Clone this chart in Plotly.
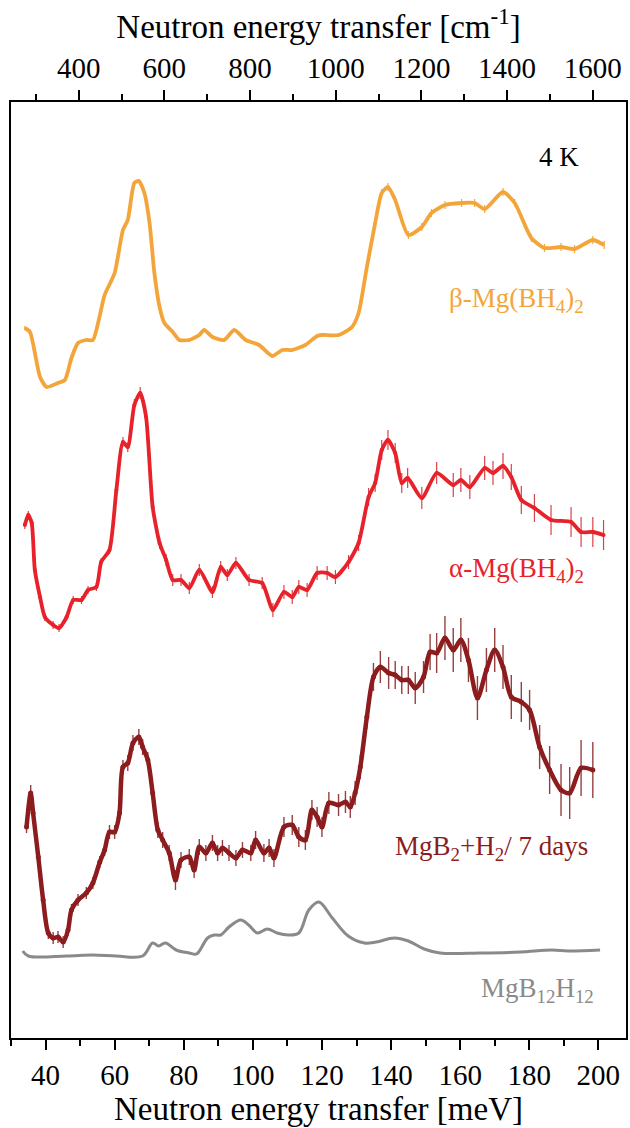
import plotly.graph_objects as go

MEV_TO_CM = 8.0655

# ---------------- data (energy in meV, intensity in arbitrary units) ----------------
beta_e = [34.0, 35.5, 38.4, 40.3, 43.6, 45.6, 47.5, 49.4, 51.8, 53.7,
          55.6, 57.1, 60.0, 62.4, 63.8, 65.7, 67.0, 68.6, 70.1, 71.5,
          73.0, 74.4, 76.8, 78.7, 81.6, 84.5, 85.9, 88.3, 91.7, 94.6,
          97.9, 101.8, 105.6, 108.5, 111.4, 115.2, 118.6, 120.0, 124.8, 128.7,
          130.6, 133.0, 135.4, 137.3, 139.1, 141.2, 145.0, 148.9, 151.7, 155.6,
          160.4, 164.2, 167.1, 172.4, 175.8, 180.6, 184.4, 189.2, 193.1, 198.4,
          201.7]
beta_i = [72, 68, 23, 13, 17, 20, 42, 57, 60, 60,
          83, 105, 127, 170, 180, 217, 219, 207, 177, 127,
          93, 77, 68, 60, 60, 65, 70, 63, 60, 70,
          60, 55, 44, 50, 50, 55, 64, 65, 65, 73,
          87, 133, 177, 207, 213, 200, 165, 173, 187, 195,
          197, 197, 191, 208, 197, 162, 152, 153, 151, 160,
          155]
beta_err = [2] * 40 + [4] * 21

alpha_e = [34.0, 35.0, 36.0, 36.9, 38.4, 39.8, 42.2, 43.9, 46.1, 48.0,
           50.4, 52.3, 54.7, 56.1, 58.5, 60.5, 62.4, 63.8, 65.7, 67.4,
           69.1, 71.0, 73.0, 74.9, 76.8, 79.2, 81.6, 84.5, 88.3, 90.7,
           92.6, 95.1, 98.9, 102.7, 105.8, 109.0, 111.4, 113.3, 115.7, 118.6,
           121.5, 123.9, 127.7, 130.6, 133.5, 135.4, 137.3, 139.1, 141.2, 143.1,
           144.8, 148.9, 153.2, 158.0, 160.2, 162.8, 167.1, 169.5, 172.4, 174.8,
           177.7, 181.5, 186.3, 192.1, 195.0, 198.4, 201.5]
alpha_i = [115, 125, 117, 70, 43, 23, 15, 12, 23, 40,
           40, 50, 53, 78, 90, 150, 198, 193, 235, 247,
           223, 133, 97, 80, 60, 60, 52, 70, 48, 73,
           65, 77, 60, 57, 30, 48, 43, 53, 50, 67,
           67, 63, 78, 97, 143, 157, 190, 200, 187, 157,
           162, 142, 167, 155, 160, 153, 172, 167, 174, 163,
           140, 132, 120, 118, 108, 108, 105]
alpha_err = [4, 4, 4, 4, 4, 4, 4, 4, 4, 4,
             4, 4, 4, 4, 4, 5, 5, 5, 6, 6,
             6, 6, 6, 6, 6, 6, 6, 6, 6, 6,
             6, 6, 6, 6, 7, 7, 7, 7, 7, 7,
             7, 7, 7, 8, 9, 9, 10, 10, 10, 10,
             10, 11, 11, 12, 12, 12, 12, 12, 13, 13,
             14, 14, 15, 15, 15, 15, 15]

mgb2_e = [34.5, 35.7, 36.4, 37.9, 39.3, 40.8, 42.2, 43.6, 45.1, 46.5,
          47.5, 49.4, 51.8, 53.7, 55.7, 57.1, 58.5, 60.0, 61.4, 62.4,
          63.8, 65.3, 67.0, 68.1, 69.6, 71.0, 72.5, 73.9, 75.8, 77.6,
          79.2, 81.6, 83.0, 84.5, 86.4, 88.3, 89.8, 91.2, 93.1, 95.1,
          97.0, 99.4, 100.8, 103.2, 104.7, 106.1, 109.0, 111.4, 113.3, 115.2,
          117.1, 118.6, 120.0, 122.0, 124.8, 126.8, 128.2, 129.6, 131.1, 133.0,
          134.9, 136.9, 139.3, 141.2, 143.1, 145.0, 147.0, 149.4, 151.3, 153.2,
          155.6, 158.0, 160.2, 162.4, 165.0, 167.6, 170.0, 172.4, 174.8, 177.7,
          180.1, 183.0, 185.9, 189.2, 191.7, 195.0, 198.4]
mgb2_i = [123, 157, 137, 93, 50, 17, 12, 13, 8, 20,
          40, 50, 57, 67, 88, 100, 118, 118, 137, 183,
          187, 207, 213, 203, 190, 157, 120, 110, 97, 70,
          90, 93, 80, 103, 97, 107, 97, 102, 97, 92,
          100, 97, 110, 97, 102, 92, 123, 125, 113, 110,
          140, 133, 123, 147, 145, 148, 143, 157, 183, 233,
          273, 283, 277, 275, 270, 270, 262, 273, 298, 297,
          312, 300, 310, 290, 252, 280, 300, 283, 253, 248,
          240, 203, 180, 160, 157, 182, 180]
mgb2_err = [6, 8, 6, 6, 6, 6, 6, 6, 6, 6,
            6, 6, 6, 6, 6, 6, 7, 7, 7, 7,
            8, 8, 8, 8, 8, 8, 8, 8, 8, 10,
            8, 8, 8, 8, 8, 8, 8, 8, 8, 8,
            8, 8, 9, 9, 9, 9, 10, 10, 10, 10,
            10, 10, 10, 11, 11, 11, 11, 12, 12, 12,
            14, 16, 16, 14, 14, 14, 16, 16, 18, 20,
            22, 22, 22, 22, 22, 22, 22, 22, 22, 20,
            20, 22, 24, 26, 26, 28, 28]

b12_e = [33.4, 35.0, 46.1, 53.7, 60.5, 68.1, 71.0, 72.7, 74.7, 77.8,
         81.6, 83.7, 86.9, 88.8, 90.7, 93.1, 96.5, 98.8, 101.3, 104.2,
         107.0, 110.4, 113.3, 116.2, 119.1, 123.0, 127.6, 132.3, 135.7, 140.9,
         145.0, 149.6, 154.2, 165.8, 177.4, 186.6, 191.3, 200.5]
b12_i = [9, 4, 4, 5, 4, 4, 17, 14, 17, 10,
         7, 6, 22, 25, 25, 33, 40, 35, 27, 31,
         27, 25, 27, 50, 58, 42, 24, 17, 18, 22,
         19, 11, 7, 7, 8, 10, 9, 10]

# vertical offsets of the stacked spectra (arbitrary units)
offsets = {"beta": 638, "alpha": 398, "mgb2": 88, "b12": 78}

# ---------------- styling ----------------
FONT = "Liberation Serif"
C_BETA = "#F3A53A"
C_ALPHA = "#E8222A"
C_MGB2 = "#8C1C1E"
C_B12 = "#8A8A8A"

def shift(vals, off):
    return [v + off for v in vals]

fig = go.Figure()

fig.add_trace(go.Scatter(
    x=b12_e, y=shift(b12_i, offsets["b12"]), mode="lines",
    line=dict(color=C_B12, width=3, shape="spline", smoothing=1.0),
    hoverinfo="skip", showlegend=False))

fig.add_trace(go.Scatter(
    x=beta_e, y=shift(beta_i, offsets["beta"]), mode="lines",
    line=dict(color=C_BETA, width=3.8, shape="spline", smoothing=0.6),
    error_y=dict(type="data", array=beta_err, color=C_BETA, thickness=1.2, width=0),
    hoverinfo="skip", showlegend=False))

fig.add_trace(go.Scatter(
    x=alpha_e, y=shift(alpha_i, offsets["alpha"]), mode="lines+markers",
    line=dict(color=C_ALPHA, width=3.8, shape="spline", smoothing=0.6),
    marker=dict(color=C_ALPHA, size=4),
    error_y=dict(type="data", array=alpha_err, color="#D8424A", thickness=1.2, width=0),
    hoverinfo="skip", showlegend=False))

fig.add_trace(go.Scatter(
    x=mgb2_e, y=shift(mgb2_i, offsets["mgb2"]), mode="lines+markers",
    line=dict(color=C_MGB2, width=4.5, shape="spline", smoothing=0.8),
    marker=dict(color=C_MGB2, size=5),
    error_y=dict(type="data", array=mgb2_err, color="#94403F", thickness=1.4, width=0),
    hoverinfo="skip", showlegend=False))

# invisible companion trace so the top (cm^-1) axis is drawn
fig.add_trace(go.Scatter(
    x=[e * MEV_TO_CM for e in beta_e], y=shift(beta_i, offsets["beta"]),
    xaxis="x2", mode="markers", marker=dict(opacity=0),
    hoverinfo="skip", showlegend=False))

x_range = [30, 208]

fig.update_layout(
    width=630, height=1128,
    margin=dict(l=11, r=2, t=102, b=90),
    paper_bgcolor="white", plot_bgcolor="white",
    font=dict(family=FONT, color="black", size=29),
    xaxis=dict(
        range=x_range, showgrid=False, zeroline=False,
        showline=True, linecolor="black", linewidth=2,
        ticks="outside", ticklen=10, tickwidth=2, tickcolor="black",
        tick0=0, dtick=20,
        minor=dict(dtick=10, ticks="outside", ticklen=6, tickwidth=2, tickcolor="black"),
        tickfont=dict(family=FONT, size=29),
        title=dict(text="Neutron energy transfer [meV]", font=dict(family=FONT, size=33), standoff=6),
    ),
    xaxis2=dict(
        overlaying="x", side="top", anchor="y",
        range=[x_range[0] * MEV_TO_CM, x_range[1] * MEV_TO_CM],
        showgrid=False, zeroline=False,
        showline=True, linecolor="black", linewidth=2,
        ticks="outside", ticklen=10, tickwidth=2, tickcolor="black",
        tick0=0, dtick=200,
        minor=dict(dtick=100, ticks="outside", ticklen=6, tickwidth=2, tickcolor="black"),
        tickfont=dict(family=FONT, size=29),
        title=dict(text="Neutron energy transfer [cm<sup>-1</sup>]", font=dict(family=FONT, size=33), standoff=4),
    ),
    yaxis=dict(
        range=[0, 936], showgrid=False, zeroline=False,
        showline=True, mirror=True, linecolor="black", linewidth=2,
        showticklabels=False, ticks="",
    ),
)

ann_font = 27
fig.add_annotation(x=195, y=881, text="4 K", showarrow=False, xanchor="right",
                   font=dict(family=FONT, size=ann_font, color="black"))
fig.add_annotation(x=196.5, y=738, text="β-Mg(BH<sub>4</sub>)<sub>2</sub>", showarrow=False,
                   xanchor="right", font=dict(family=FONT, size=ann_font, color=C_BETA))
fig.add_annotation(x=196.5, y=468, text="α-Mg(BH<sub>4</sub>)<sub>2</sub>", showarrow=False,
                   xanchor="right", font=dict(family=FONT, size=ann_font, color=C_ALPHA))
fig.add_annotation(x=197.6, y=190, text="MgB<sub>2</sub>+H<sub>2</sub>/ 7 days", showarrow=False,
                   xanchor="right", font=dict(family=FONT, size=ann_font, color=C_MGB2))
fig.add_annotation(x=199.4, y=48, text="MgB<sub>12</sub>H<sub>12</sub>", showarrow=False,
                   xanchor="right", font=dict(family=FONT, size=ann_font, color=C_B12))

fig.write_html("out.html", config={"displayModeBar": False},
               post_script="document.body.style.margin='0';document.body.style.overflow='hidden';")
